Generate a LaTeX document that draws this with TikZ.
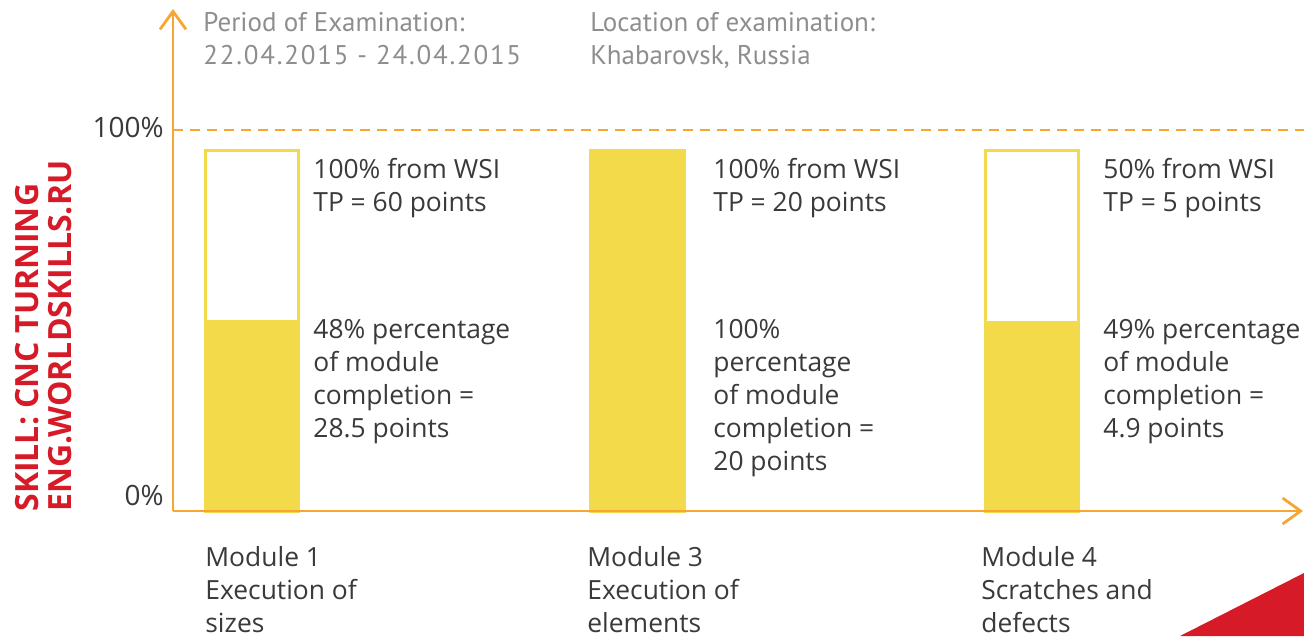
\documentclass[tikz,border=0pt]{standalone}
\usepackage{fontspec}
\setmainfont{Open Sans}
\newfontfamily\headfont{PT Sans}
\newfontfamily\datefont[LetterSpace=6.5]{PT Sans}
\usetikzlibrary{calc}
\usetikzlibrary{positioning}
\usetikzlibrary{arrows.meta}

\definecolor{axisorange}{HTML}{F7A631}
\definecolor{baryellow}{HTML}{F3DA4B}
\definecolor{skillred}{HTML}{D71A28}
\definecolor{headgray}{HTML}{8E8E8E}
\definecolor{textgray}{HTML}{3A3A3A}

\begin{document}
\begin{tikzpicture}[x=0.5pt,y=-0.5pt,
axis/.style={draw=axisorange,line width=1.4pt,-{Straight Barb[length=9pt,width=13pt,line width=1.4pt]}},
hundred/.style={draw=axisorange,line width=1.3pt,dash pattern=on 5pt off 3.5pt},
barframe/.style={draw=baryellow,line width=1.5pt},
barfill/.style={fill=baryellow},
info/.style={inner sep=0pt,align=left,anchor=north west,text=textgray,font=\fontsize{13.2}{16.5}\selectfont},
head/.style={info,text=headgray,font=\fontsize{13.5}{16.5}\selectfont\headfont},
tick/.style={inner sep=0pt,anchor=base east,text=textgray,font=\fontsize{14}{16.5}\selectfont},
skill/.style={inner sep=0pt,align=left,rotate=90,anchor=north west,text=skillred,font=\fontsize{16}{16.5}\selectfont\bfseries}]
\useasboundingbox (0,0) rectangle (1304,636);

\coordinate (o) at (173,511);
\coordinate (ytop) at (173,9);
\coordinate (xend) at (1303,511);
\coordinate (full west) at (173,130);
\coordinate (full east) at (1304,130);

\draw[hundred] (full west) -- (full east);

% bars
\fill[barfill] (205,320) rectangle (298,511);
\draw[barframe] (205,151) rectangle (298,511);
\fill[barfill] (590,151) rectangle (684,511);
\draw[barframe] (590,151) rectangle (684,511);
\fill[barfill] (985,321) rectangle (1078,511);
\draw[barframe] (985,151) rectangle (1078,511);

\draw[axis] (o) -- (ytop);
\draw[axis] (o) -- (xend);

\node[tick] (p100) at (164,138) {100\%};
\node[tick] (p0) at (164,505) {0\%};

\node[head] (period) at (203,12) {Period of Examination:\\{\datefont 22.04.2015 - 24.04.2015}};
\node[head] (place) at (590,12) {Location of examination:\\Khabarovsk, Russia};

\node[info] (wsi a) at (313,158) {100\% from WSI\\TP = 60 points};
\node[info] (done a) at (313,319) {48\% percentage\\of module\\completion =\\28.5 points};
\node[info] (wsi b) at (713,158) {100\% from WSI\\TP = 20 points};
\node[info] (done b) at (713,319) {100\%\\percentage\\of module\\completion =\\20 points};
\node[info] (wsi c) at (1103,158) {50\% from WSI\\TP = 5 points};
\node[info] (done c) at (1103,319) {49\% percentage\\of module\\completion =\\4.9 points};

\node[info] (mod a) at (205,546) {Module 1\\Execution of\\sizes};
\node[info] (mod b) at (587,546) {Module 3\\Execution of\\elements};
\node[info] (mod c) at (981,546) {Module 4\\Scratches and\\defects};

\node[skill] (skill) at (15,512) {SKILL: CNC TURNING\\ENG.WORLDSKILLS.RU};

\fill[skillred] (1180,636) -- (1304,573) -- (1304,636) -- cycle;
\end{tikzpicture}
\end{document}
